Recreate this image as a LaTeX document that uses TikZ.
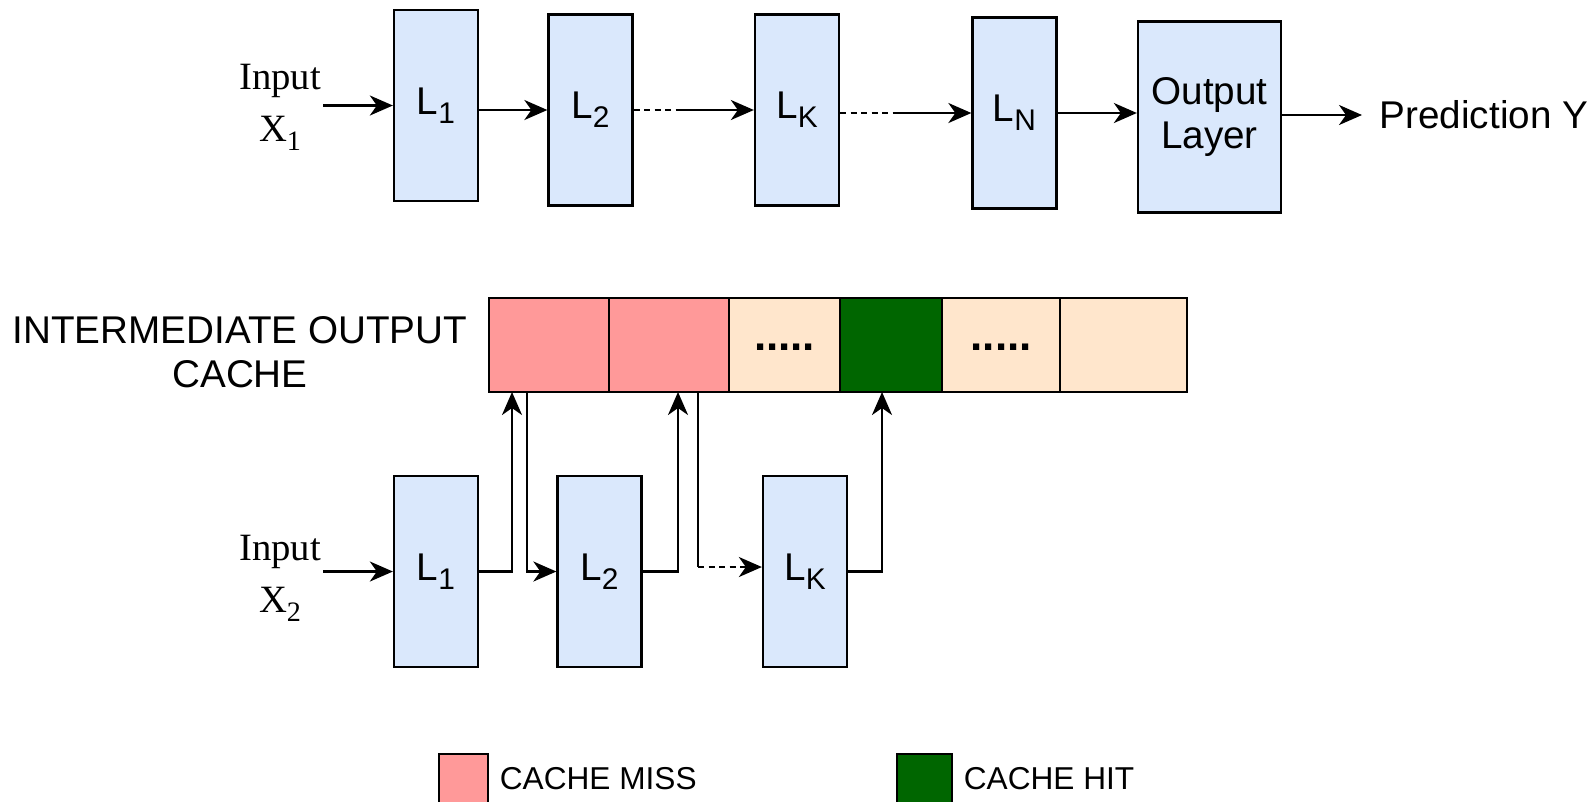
\documentclass[tikz,border=0pt]{standalone}
\usepackage{fontspec}
\setmainfont{Liberation Sans}
\newfontfamily\timesfont{Liberation Serif}
\definecolor{layerblue}{HTML}{DAE8FC}
\definecolor{missred}{HTML}{FF9999}
\definecolor{cachepeach}{HTML}{FFE6CC}
\definecolor{hitgreen}{HTML}{006600}
\usetikzlibrary{arrows.meta,positioning,calc}
\newcommand{\lyr}[1]{L\raisebox{-0.45ex}{\fontsize{8.5}{8.5}\selectfont #1}}
\newcommand{\xin}[1]{X\raisebox{-0.5ex}{\fontsize{8}{8}\selectfont #1}}
\tikzset{
  layer/.style={draw, fill=layerblue, line width=0.65pt, minimum width=8.4mm,
    minimum height=19.1mm, inner sep=0pt},
  cell/.style={draw, line width=0.65pt, minimum height=9.4mm, inner sep=0pt, anchor=west,
    text height=3pt, text depth=0pt, font=\fontsize{12.5}{13}\bfseries},
  arr/.style={-{Stealth[length=2.3mm,width=2mm,inset=0.7mm]}, line width=0.7pt},
  dotline/.style={line width=0.7pt, dash pattern=on 0.6mm off 0.45mm},
  inlbl/.style={align=center, font=\timesfont\fontsize{11}{14.8}\selectfont, inner sep=0.5pt},
  legbox/.style={draw, line width=0.65pt, minimum height=4.9mm, inner sep=0pt},
  leglbl/.style={inner sep=0pt, font=\fontsize{9}{11}\selectfont},
}
\begin{document}
\begin{tikzpicture}[x=0.1mm, y=-0.1mm, font=\fontsize{11}{13}\selectfont]
  \useasboundingbox (0,0) rectangle (1593,801);
  % Full network
  \node[inlbl] (in1) at (280,107) {Input\\\xin{1}};
  \node[layer] (L1) at (436,105.5) {\lyr{1}};
  \node[layer] (L2) at (590.5,110) {\lyr{2}};
  \node[layer] (LK) at (797,110) {\lyr{K}};
  \node[layer] (LN) at (1014.5,113) {\lyr{N}};
  \node[layer, minimum width=14.3mm, align=center, font=\fontsize{11}{12.8}\selectfont]
    (out) at (1209.5,117) {Output\\Layer};
  \node[anchor=west, inner sep=0pt] (pred) at (1379,115) {Prediction Y};
  \coordinate (k1) at (682,110);
  \coordinate (k2) at (893,113);
  \draw[arr] (in1.east |- L1.west) -- (L1.west);
  \draw[arr] (L1.east |- L2.west) -- (L2.west);
  \draw[dotline] (L2.east) -- (k1);
  \draw[arr] (k1) -- (LK.west);
  \draw[dotline] (LK.east |- k2) -- (k2);
  \draw[arr] (k2) -- (LN.west);
  \draw[arr] (LN.east) -- (LN.east -| out.west);
  \draw[arr, shorten >=1.7mm] (out.east |- pred.west) -- (pred.west);
  % Cache
  \node[align=center, font=\fontsize{11}{12.5}\selectfont] (cachelbl) at (240,352)
    {INTERMEDIATE OUTPUT\\CACHE};
  \node[cell, fill=missred, minimum width=12mm] (c1) at (488,345) {};
  \node[cell, fill=missred, minimum width=12mm] (c2) at (608,345) {};
  \node[cell, fill=cachepeach, minimum width=11.1mm] (c3) at (728,345) {.....};
  \node[cell, fill=hitgreen, minimum width=10.2mm] (c4) at (839,345) {};
  \node[cell, fill=cachepeach, minimum width=11.8mm] (c5) at (941,345) {.....};
  \node[cell, fill=cachepeach, minimum width=12.7mm] (c6) at (1059,345) {};
  % Cached network
  \node[inlbl] (in2) at (280,578) {Input\\\xin{2}};
  \node[layer] (L1b) at (436,571.5) {\lyr{1}};
  \node[layer] (L2b) at (599.5,571.5) {\lyr{2}};
  \node[layer] (LKb) at (805,571.5) {\lyr{K}};
  \coordinate (w1) at (512,392);
  \coordinate (r1) at (527,392);
  \coordinate (w2) at (678,392);
  \coordinate (r2) at (698,392);
  \coordinate (d2) at (698,567);
  \coordinate (w3) at (882,392);
  \draw[arr] (in2.east |- L1b.west) -- (L1b.west);
  \draw[arr] (L1b.east) -| (w1);
  \draw[arr] (r1) |- (L2b.west);
  \draw[arr] (L2b.east) -| (w2);
  \draw[line width=0.7pt] (r2) -- (d2);
  \draw[arr, dotline] (d2) -- (d2 -| LKb.west);
  \draw[arr] (LKb.east) -| (w3);
  % Legend
  \node[legbox, fill=missred, minimum width=4.9mm] (missbox) at (463.5,778.5) {};
  \node[leglbl, right=1mm of missbox] (misslbl) {CACHE MISS};
  \node[legbox, fill=hitgreen, minimum width=5.5mm] (hitbox) at (924.5,778.5) {};
  \node[leglbl, right=1mm of hitbox] (hitlbl) {CACHE HIT};
\end{tikzpicture}
\end{document}
